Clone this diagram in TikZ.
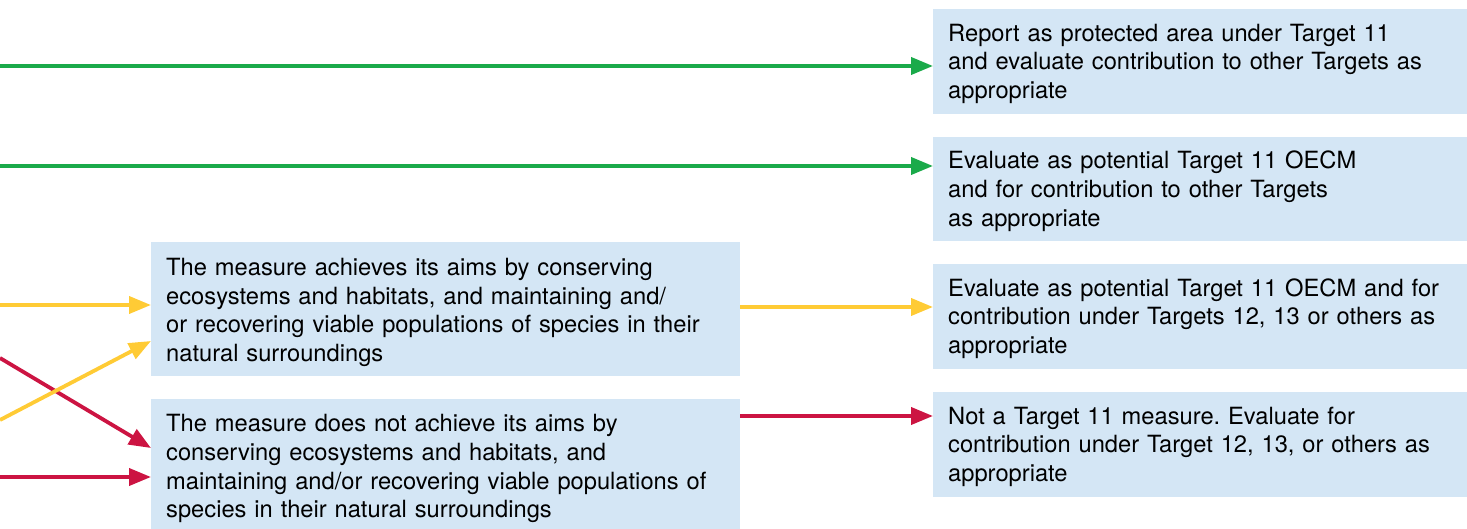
\documentclass[tikz,border=0pt]{standalone}
\usepackage{fontspec}
\setmainfont{TeX Gyre Heros}
\usetikzlibrary{arrows.meta}
\definecolor{boxblue}{HTML}{D4E6F5}
\definecolor{agreen}{HTML}{1AAA4A}
\definecolor{ayellow}{HTML}{FFCB35}
\definecolor{ared}{HTML}{CC1442}
\tikzset{
  infobox/.style={fill=boxblue, draw=none, anchor=north west, align=left,
    inner xsep=15pt, inner ysep=0pt, font=\fontsize{23.7}{28.7}\selectfont, text=black},
  lower/.style={execute at begin node={\rule{0pt}{#1}}},
  flow/.style={line width=3.8pt, -{Triangle[length=22pt,width=17pt]}},
}
\begin{document}
\frenchspacing
\begin{tikzpicture}[x=1pt,y=-1pt]
\useasboundingbox (0,0) rectangle (1467,529);
% right boxes
\node[infobox, lower=21.5pt, minimum width=534pt, minimum height=105pt, text width=504pt] (r1) at (933,9)
  {Report as protected area under Target 11\\and evaluate contribution to other Targets as\\appropriate};
\node[infobox, lower=21.5pt, minimum width=534pt, minimum height=104pt, text width=504pt] (r2) at (933,137)
  {Evaluate as potential Target 11 OECM\\and for contribution to other Targets\\as appropriate};
\node[infobox, lower=21.5pt, minimum width=534pt, minimum height=105pt, text width=504pt] (r3) at (933,264)
  {Evaluate as potential Target 11 OECM and for\\contribution under Targets 12, 13 or others as\\appropriate};
\node[infobox, lower=21.5pt, minimum width=534pt, minimum height=105pt, text width=504pt] (r4) at (933,392)
  {Not a Target 11 measure. Evaluate for\\contribution under Target 12, 13, or others as\\appropriate};
% middle boxes
\node[infobox, lower=23.5pt, minimum width=589pt, minimum height=134pt, text width=559pt] (m1) at (151,242)
  {The measure achieves its aims by conserving\\ecosystems and habitats, and maintaining and/\\or recovering viable populations of species in their\\natural surroundings};
\node[infobox, lower=26.5pt, minimum width=589pt, minimum height=130pt, text width=559pt] (m2) at (151,399)
  {The measure does not achieve its aims by\\conserving ecosystems and habitats, and\\maintaining and/or recovering viable populations of\\species in their natural surroundings};
% free ends
\coordinate (g1) at (0,66);
\coordinate (g2) at (0,166);
\coordinate (y1) at (0,305);
\coordinate (y2) at (0,420);
\coordinate (d1) at (0,358);
\coordinate (d2) at (0,477);
% arrows
\draw[flow, agreen] (g1) -- (g1 -| r1.west);
\draw[flow, agreen] (g2) -- (g2 -| r2.west);
\draw[flow, ayellow] (y1) -- (y1 -| m1.west);
\draw[flow, ared] (d1) -- (m2.west |- 0,448);
\draw[flow, ayellow] (y2) -- (m1.west |- 0,341);
\draw[flow, ared] (d2) -- (d2 -| m2.west);
\draw[flow, ayellow] (m1.east |- 0,307) -- (r3.west |- 0,307);
\draw[flow, ared] (m2.east |- 0,416) -- (r4.west |- 0,416);
\end{tikzpicture}
\end{document}
